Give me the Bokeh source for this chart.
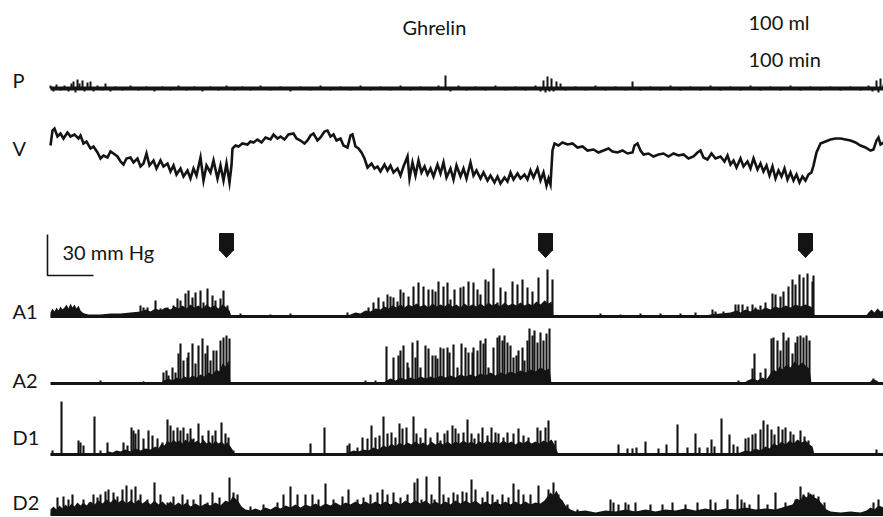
from bokeh.plotting import figure
from bokeh.models import Range1d
from bokeh.embed import file_html
from bokeh.resources import INLINE
from bokeh.core.properties import value

# ---------------- data (time in recorder samples, amplitudes in recorder units) -------------
# Volume trace V
v_trace = [(0,45),(2,60),(4,62),(7,54),(10,57),(13,52),(17,58),(20,54),(24,56),(28,52),(30,55),(33,47),
           (36,49),(40,42),(43,44),(47,38),(50,32),(53,35),(57,33),(60,39),(63,37),(67,34),(70,29),(73,26),
           (76,32),(80,33),(83,28),(87,32),(90,24),(93,27),(96,37),(99,25),(103,30),(106,22),(110,30),(113,24),
           (117,27),(120,19),(123,25),(126,16),(130,22),(133,14),(137,20),(140,12),(143,22),(146,15),(150,33),
           (153,10),(156,25),(160,18),(163,30),(167,12),(170,25),(173,10),(176,27),(179,8),(181,25),(182,42),
           (185,45),(188,44),(192,47),(197,46),(200,49),(203,48),(207,51),(211,48),(215,53),(220,51),(223,56),
           (227,52),(230,54),(234,51),(238,56),(243,57),(246,52),(250,50),(254,47),(257,50),(260,55),(263,57),
           (267,50),(270,53),(274,59),(277,60),(280,54),(283,56),(286,50),(290,52),(293,45),(297,43),(300,55),
           (302,56),(305,44),(308,42),(311,38),(314,32),(317,23),(321,27),(324,22),(327,24),(330,19),(334,26),
           (337,20),(340,25),(343,18),(347,22),(350,15),(353,24),(357,34),(359,12),(362,28),(365,15),(368,30),
           (371,18),(374,24),(377,16),(380,22),(383,14),(387,26),(390,17),(393,28),(396,13),(400,22),(403,11),
           (406,25),(410,14),(413,22),(416,12),(420,28),(423,15),(426,20),(430,12),(433,18),(437,10),(440,15),
           (444,8),(447,14),(450,7),(454,13),(457,9),(460,18),(463,11),(467,17),(470,12),(474,16),(477,11),
           (480,20),(483,13),(487,22),(490,10),(493,18),(496,5),(498,12),(500,6),(502,40),(504,47),(508,45),
           (512,48),(517,46),(522,47),(527,43),(532,44),(537,40),(543,41),(548,38),(553,40),(558,42),(562,39),
           (567,38),(572,40),(577,37),(582,38),(584,45),(587,47),(590,40),(593,36),(598,37),(603,34),(608,36),
           (613,37),(618,34),(623,37),(628,35),(633,36),(638,32),(643,34),(647,38),(650,40),(653,33),(657,31),
           (661,37),(665,32),(670,34),(674,29),(677,35),(680,26),(683,30),(686,23),(690,32),(693,24),(697,29),
           (700,22),(703,32),(707,21),(710,27),(713,19),(716,25),(719,15),(722,24),(725,12),(728,20),(731,14),
           (734,22),(737,11),(740,18),(743,10),(746,16),(749,8),(752,14),(755,10),(758,16),(761,18),(763,25),
           (766,38),(770,47),(775,49),(780,51),(785,52),(790,52),(795,51),(800,50),(805,48),(810,45),(815,43),
           (820,40),(823,41),(826,50),(828,53),(830,46),(833,48)]

# Pressure trace P (small deflections around baseline)
p_ticks = [(0,3),(3,-3),(6,4),(10,-2),(14,3),(18,-3),(21,5),(23,7),(25,-4),(27,9),(29,5),(32,8),(34,-3),
           (37,6),(40,7),(43,-3),(47,3),(52,-2),(55,5),(60,-3),(65,2),(72,-2),(80,3),(88,-2),(96,2),(104,-3),
           (112,2),(120,-2),(128,3),(136,-2),(144,2),(152,-3),(160,2),(168,-2),(176,3),(184,-2),(192,2),(200,-2),
           (210,3),(220,-2),(230,2),(240,-3),(250,2),(260,-2),(270,3),(280,-2),(290,2),(300,-2),(310,3),(320,-2),
           (330,2),(340,-2),(350,3),(360,-2),(370,2),(380,-2),(388,3),(395,13),(400,-3),(408,3),(416,-2),(425,2),
           (435,-2),(445,3),(455,-2),(465,2),(475,-2),(485,3),(490,-3),(493,8),(495,-4),(497,12),(499,-3),
           (501,10),(503,-3),(506,7),(510,5),(515,-2),(525,2),(535,-2),(545,3),(555,-2),(565,2),(575,-2),(582,7),
           (590,-2),(600,2),(610,-2),(620,3),(630,-2),(640,2),(650,-2),(660,3),(670,-2),(680,2),(690,-2),(700,3),
           (710,-2),(720,2),(730,-2),(740,3),(750,-2),(760,2),(770,-2),(780,2),(790,-2),(800,2),(810,-2),(818,3),
           (822,-3),(826,8),(828,-4),(830,10),(833,4)]

# A1 antral pressure: dense background activity and contractions
a1_band = [(0,4),(2,8),(4,5),(6,9),(8,6),(10,10),(12,7),(14,9),(16,12),(18,8),(20,13),(22,9),(24,12),(26,8),
           (28,11),(30,6),(32,4),(34,3),(38,2),(50,2),(60,3),(70,3),(80,4),(90,5),(95,7),(100,5),(105,8),(110,6),
           (115,9),(120,7),(124,10),(128,8),(132,11),(136,8),(140,12),(144,9),(148,11),(152,8),(156,12),(160,9),
           (164,11),(168,8),(172,12),(176,9),(179,6),(181,0),(295,0),(300,2),(305,4),(310,3),(315,6),(320,5),
           (325,8),(330,7),(334,10),(338,8),(342,11),(346,9),(350,12),(354,9),(358,12),(362,10),(366,13),(370,10),
           (374,12),(378,9),(382,13),(386,10),(390,12),(394,10),(398,13),(402,10),(406,12),(410,9),(414,13),
           (418,10),(422,12),(426,10),(430,13),(434,10),(438,14),(442,11),(446,13),(450,10),(454,14),(458,11),
           (462,13),(466,11),(470,14),(474,11),(478,13),(482,11),(486,15),(490,12),(494,16),(498,13),(501,15),
           (503,0),(650,0),(660,2),(670,3),(680,4),(686,6),(690,4),(695,7),(700,5),(705,8),(710,6),(715,9),(720,7),
           (725,10),(730,8),(735,11),(740,9),(745,12),(750,10),(755,12),(760,10),(763,8),(764,0),(815,0),(818,4),
           (821,7),(824,4),(827,8),(830,5),(833,6)]
a1_spikes = [(90,11),(93,9),(97,9),(105,16),(110,8),(117,9),(123,11),(127,18),(130,16),(135,23),(138,26),
             (142,19),(145,24),(150,26),(153,14),(157,28),(162,21),(165,16),(170,18),(173,26),(177,11),
             (190,3),(220,2),(240,3),(297,4),
             (318,9),(323,14),(328,19),(333,15),(337,22),(340,20),(343,19),(347,15),(350,27),(353,24),(358,20),
             (363,30),(368,34),(373,30),(378,27),(382,27),(385,25),(388,35),(393,30),(397,34),(400,17),(404,27),
             (410,29),(413,30),(418,35),(423,34),(427,27),(430,22),(435,37),(438,35),(443,48),(447,14),(450,29),
             (455,25),(462,35),(467,32),(472,37),(477,29),(482,25),(488,39),(497,47),(502,37),
             (550,3),(570,2),(590,3),(610,3),(630,3),(645,4),
             (662,7),(665,5),(673,5),(685,12),(688,12),(692,12),(697,10),(702,12),(705,9),(710,11),(715,14),
             (722,23),(725,22),(730,20),(733,25),(738,30),(742,37),(745,32),(749,42),(753,39),(757,43),(762,35),
             (763,41)]

# A2 antral pressure
a2_band = [(0,0),(90,0),(93,2),(96,0),(110,0),(113,3),(118,5),(122,3),(126,6),(130,4),(134,7),(138,5),(142,8),
           (146,6),(150,9),(154,7),(158,11),(162,9),(166,14),(169,12),(172,20),(175,17),(178,23),(180,0),(333,0),
           (336,3),(340,5),(345,3),(350,6),(355,4),(360,6),(365,4),(370,7),(375,5),(380,7),(385,5),(390,8),(395,6),
           (400,8),(405,6),(410,9),(415,7),(420,9),(425,7),(430,10),(435,8),(440,11),(445,8),(450,11),(455,9),
           (460,12),(465,10),(470,13),(475,11),(480,14),(485,12),(490,16),(495,13),(499,15),(501,0),(693,0),
           (697,3),(702,5),(707,3),(712,6),(716,4),(720,10),(723,14),(726,12),(729,17),(732,14),(736,19),(740,16),
           (744,22),(748,18),(752,21),(756,17),(759,15),(761,0),(818,0),(822,4),(826,3),(830,0),(833,0)]
a2_spikes = [(50,3),(93,2),
             (113,11),(116,13),(118,8),(122,16),(125,11),(128,30),(130,40),(133,23),(137,26),(138,31),(142,40),
             (145,20),(148,38),(152,45),(155,30),(157,38),(160,23),(163,33),(166,33),(170,43),(173,46),(176,48),
             (179,45),
             (315,3),(325,3),
             (336,37),(343,26),(348,28),(350,33),(353,38),(357,21),(358,16),(362,41),(365,26),(367,43),(370,16),
             (375,38),(378,35),(382,28),(385,28),(387,25),(390,36),(393,35),(397,36),(399,31),(403,39),(407,16),
             (411,40),(415,36),(418,31),(422,31),(423,36),(427,33),(430,43),(433,40),(435,45),(438,16),(443,36),
             (447,46),(449,48),(452,43),(454,48),(457,41),(460,38),(463,26),(466,28),(468,33),(472,36),(474,23),
             (477,43),(479,55),(482,48),(484,53),(487,41),(490,51),(493,43),(496,50),(499,55),
             (688,3),(702,15),(704,30),(710,11),(715,15),(721,45),(723,46),(727,43),(730,33),(733,51),(736,43),
             (738,46),(742,30),(745,41),(747,47),(750,48),(753,46),(756,48),(759,43),(823,5)]

# D1 duodenal pressure
d1_band = [(0,1),(55,1),(58,3),(62,2),(66,4),(70,3),(75,5),(80,3),(85,6),(90,4),(95,6),(100,5),(105,8),(108,6),
           (111,11),(114,9),(117,14),(120,11),(123,15),(126,12),(129,14),(132,11),(135,15),(138,12),(141,16),
           (144,12),(147,14),(150,11),(153,15),(156,11),(159,13),(162,10),(165,14),(168,11),(171,13),(174,10),
           (177,12),(180,8),(182,5),(184,0),(293,0),(298,2),(303,4),(308,3),(313,5),(318,4),(323,7),(328,5),(333,9),
           (337,7),(341,11),(345,8),(349,12),(353,9),(357,12),(361,10),(365,13),(369,10),(373,12),(377,9),(381,13),
           (385,10),(389,12),(393,10),(397,13),(401,10),(405,13),(409,11),(413,14),(417,11),(421,13),(425,10),
           (429,13),(433,11),(437,14),(441,11),(445,13),(449,11),(453,14),(457,11),(461,13),(465,10),(469,13),
           (473,11),(477,14),(481,11),(485,13),(489,11),(493,14),(497,12),(501,15),(504,10),(506,5),(508,0),
           (680,0),(690,2),(695,4),(700,3),(705,6),(710,4),(715,8),(719,6),(723,11),(727,9),(731,13),(735,10),
           (739,14),(743,11),(747,15),(751,12),(755,14),(759,10),(762,8),(764,0),(833,0)]
d1_spikes = [(2,4),(11,53),(28,14),(30,12),(33,9),(44,38),(50,4),(57,12),(73,12),(77,9),(81,27),(83,24),
             (85,21),(88,25),(93,16),(98,24),(102,19),(107,16),(112,12),(117,35),(120,29),(123,24),(127,27),
             (130,24),(133,27),(137,21),(140,26),(143,16),(148,31),(152,19),(158,24),(162,19),(165,24),(171,32),
             (175,21),(178,17),(183,4),
             (260,11),(274,27),(297,9),(299,11),(307,7),(312,17),(317,16),(321,29),(325,17),(329,19),(333,38),
             (337,21),(341,22),(345,17),(349,31),(352,26),(356,27),(363,38),(366,21),(370,17),(375,26),(380,17),
             (387,22),(390,14),(394,21),(397,24),(402,29),(405,26),(408,21),(413,22),(417,35),(421,21),(424,16),
             (428,21),(432,27),(437,19),(441,27),(445,22),(448,21),(453,17),(457,22),(463,21),(468,26),(473,19),
             (478,17),(487,27),(490,24),(495,27),(498,34),(505,14),
             (568,10),(577,6),(582,6),(586,7),(595,13),(608,6),(616,10),(627,30),(637,7),(645,21),(649,7),
             (657,7),(661,15),(664,8),(671,36),(679,20),(683,10),(687,8),(695,16),(698,17),(702,20),(705,21),
             (710,25),(713,34),(717,30),(721,25),(724,20),(728,28),(732,25),(735,27),(740,23),(743,20),(750,24),
             (754,18),(758,14),(826,5)]

# D2 duodenal pressure
d2_band = [(0,5),(3,8),(6,5),(9,9),(12,6),(15,10),(18,7),(21,11),(24,8),(27,12),(30,9),(33,12),(36,9),(40,13),
           (44,10),(48,14),(52,11),(56,15),(60,12),(64,16),(68,12),(72,15),(76,11),(80,14),(84,11),(88,15),(92,11),
           (96,14),(100,10),(104,14),(108,10),(112,13),(116,9),(120,13),(124,9),(128,12),(132,9),(136,12),(140,8),
           (145,11),(150,8),(155,11),(160,9),(165,12),(170,9),(175,14),(179,12),(182,18),(185,16),(188,13),(191,8),
           (195,5),(200,4),(205,6),(210,4),(215,7),(220,5),(225,8),(230,6),(235,9),(240,7),(245,10),(250,7),
           (255,10),(260,8),(265,11),(270,8),(275,11),(280,9),(285,12),(290,9),(295,12),(300,10),(305,13),(310,10),
           (315,13),(320,10),(325,13),(330,10),(335,13),(340,10),(345,13),(350,10),(355,14),(360,11),(365,14),
           (370,11),(375,14),(380,10),(385,13),(390,10),(395,13),(400,10),(405,14),(410,11),(415,14),(420,11),
           (425,14),(430,10),(435,13),(440,10),(445,13),(450,10),(455,13),(460,10),(465,13),(470,10),(475,13),
           (480,10),(485,12),(490,11),(494,14),(497,18),(500,22),(503,19),(506,24),(509,17),(512,14),(515,9),
           (520,5),(525,3),(535,4),(545,2),(555,4),(565,3),(575,5),(585,3),(595,5),(605,3),(615,5),(625,4),(635,6),
           (645,4),(655,6),(665,4),(675,6),(685,5),(695,7),(705,5),(715,6),(725,5),(735,8),(742,10),(746,16),
           (750,14),(753,20),(756,17),(760,21),(764,17),(768,15),(772,10),(776,5),(780,3),(790,2),(800,3),(810,2),
           (816,4),(820,7),(824,5),(828,9),(833,7)]
d2_spikes = [(7,17),(13,18),(18,15),(22,20),(27,10),(33,15),(39,12),(43,20),(47,17),(50,20),(55,23),(58,25),
             (63,22),(67,18),(72,25),(76,29),(81,25),(85,28),(90,20),(97,15),(104,32),(110,20),(117,12),(123,18),
             (132,20),(137,15),(143,15),(150,20),(157,12),(162,22),(169,17),(179,37),(183,22),(187,20),(200,8),
             (213,10),(227,12),(233,20),(240,28),(247,20),(255,20),(262,20),(268,15),(275,31),(283,15),(292,18),
             (298,25),(307,15),(313,17),(320,20),(327,22),(332,25),(337,20),(343,22),(350,17),(357,20),(364,32),
             (367,36),(371,15),(376,38),(381,20),(384,15),(389,38),(393,20),(398,17),(403,22),(407,20),(412,23),
             (416,22),(421,35),(425,25),(432,17),(437,23),(442,20),(447,15),(452,20),(458,17),(463,31),(468,25),
             (473,20),(480,20),(488,29),(498,25),(503,32),(508,20),(517,10),(527,5),(560,15),(563,12),(568,10),
             (575,12),(578,10),(585,12),(600,10),(612,10),(622,12),(635,10),(647,12),(660,15),(665,12),(677,15),
             (687,20),(691,15),(694,12),(699,10),(708,20),(717,10),(725,22),(735,12),(745,15),(750,28),(753,20),
             (758,22),(763,20),(768,18),(774,12),(823,12),(828,15)]

# ghrelin markers (arrow times)
arrow_t = [176, 495, 755]

channel_labels = ["P", "V", "A1", "A2", "D1", "D2"]
top_labels = ["Ghrelin", "100 ml", "100 min"]
scale_label = "30 mm Hg"

# ---------------- layout constants -------------------------------------------------------------
INK = "#141414"
FONT = value("Lato")
FONT_SIZE = "20px"
T_END = 833
BASE = {"P": 88, "V": 190, "A1": 316, "A2": 383, "D1": 454, "D2": 514}
LABEL_Y = {"P": 79, "V": 147, "A1": 310, "A2": 379, "D1": 436, "D2": 501}
LABEL_T = -38

p = figure(width=883, height=517, x_range=Range1d(-50, 833), y_range=Range1d(517, 0),
           output_backend="svg", toolbar_location=None, min_border=0,
           x_axis_type=None, y_axis_type=None)
p.outline_line_color = None
p.xgrid.visible = False
p.ygrid.visible = False
p.background_fill_color = "white"
p.border_fill_color = "white"


def unzip(pairs):
    return [a for a, _ in pairs], [b for _, b in pairs]


# P trace
p.line([0, T_END], [BASE["P"], BASE["P"]], line_color=INK, line_width=4)
pt, pa = unzip(p_ticks)
p.segment(x0=pt, y0=[BASE["P"]] * len(pt), x1=pt, y1=[BASE["P"] - a for a in pa],
          line_color=INK, line_width=2)

# V trace
vt, vv = unzip(v_trace)
p.line(vt, [BASE["V"] - v for v in vv], line_color=INK, line_width=2.6, line_join="miter")


def draw_channel(name, band, spikes):
    b = BASE[name]
    bt, ba = unzip(band)
    p.varea(x=bt, y1=[b] * len(bt), y2=[b - a for a in ba], fill_color=INK)
    p.line([0, T_END], [b, b], line_color=INK, line_width=2.8)
    st, sa = unzip(spikes)
    p.segment(x0=st, y0=[b] * len(st), x1=st, y1=[b - a for a in sa], line_color=INK, line_width=2.1)


draw_channel("A1", a1_band, a1_spikes)
draw_channel("A2", a2_band, a2_spikes)
draw_channel("D1", d1_band, d1_spikes)
draw_channel("D2", d2_band, d2_spikes)

# arrows
AW = 7
p.quad(left=[t - AW for t in arrow_t], right=[t + AW for t in arrow_t],
       top=[233] * 3, bottom=[250] * 3, fill_color=INK, line_color=INK)
p.patches(xs=[[t - AW, t + AW, t] for t in arrow_t], ys=[[249.5, 249.5, 257]] * 3,
          fill_color=INK, line_color=INK)

# scale bar: 40 units vertical (30 mm Hg), 46 samples horizontal
p.line([-3, -3, 43], [234, 275, 275], line_color=INK, line_width=1.6)

# labels
p.text(x=[LABEL_T] * len(channel_labels), y=[LABEL_Y[c] for c in channel_labels], text=channel_labels,
       text_font=FONT, text_font_size=FONT_SIZE, text_color=INK, text_baseline="alphabetic")
p.text(x=[352, 698, 698], y=[26, 21, 58], text=top_labels,
       text_font=FONT, text_font_size=FONT_SIZE, text_color=INK, text_baseline="alphabetic")
p.text(x=[12], y=[251], text=[scale_label],
       text_font=FONT, text_font_size=FONT_SIZE, text_color=INK, text_baseline="alphabetic")

open("out.html", "w").write(file_html(p, INLINE))
